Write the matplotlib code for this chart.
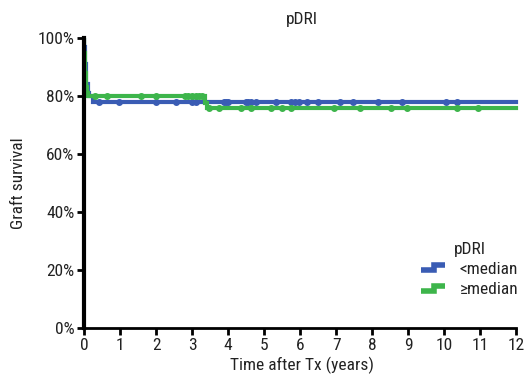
import matplotlib
matplotlib.use("Agg")
import matplotlib.pyplot as plt
import numpy as np
from matplotlib.lines import Line2D
from matplotlib.legend_handler import HandlerBase
from matplotlib import font_manager

names = {f.name for f in font_manager.fontManager.ttflist}
fam = [n for n in ['Liberation Sans Narrow', 'DejaVu Sans Condensed', 'Roboto Condensed',
                   'Open Sans Condensed', 'Liberation Sans'] if n in names]
plt.rcParams['font.family'] = fam + ['DejaVu Sans']
narrow = fam and fam[0] != 'Liberation Sans'
fs = 12.5 if narrow else 11.5

# Kaplan-Meier step data (time in years, survival in %)
blue_t = [0, 0.01, 0.03, 0.06, 0.10, 0.15, 0.25, 12]
blue_s = [100, 97, 91, 84, 81, 80, 78, 78]
green_t = [0, 0.01, 0.03, 0.05, 0.08, 0.12, 3.36, 3.42, 12]
green_s = [100, 95, 88, 83, 81, 80, 77.5, 76, 76]

blue_cens = [0.42, 0.97, 1.99, 2.55, 3.0, 3.1, 3.88, 3.95, 4.0, 4.49, 4.55, 4.63, 4.79,
             5.32, 5.76, 5.85, 5.96, 6.18, 6.51, 7.12, 7.48, 8.17, 8.84, 10.06, 10.36]
green_cens = [0.3, 0.64, 1.58, 2.0, 2.8, 2.9, 3.0, 3.1, 3.2, 3.27, 3.46, 3.74, 4.35,
              4.63, 5.2, 5.49, 5.76, 6.93, 7.67, 8.53, 8.98, 10.36, 10.94]

series_labels = ['<median', '≥median']
blue = '#3a5cb4'
green = '#3db54b'

xticks = list(range(0, 13))
yticks = [0, 20, 40, 60, 80, 100]


def surv_at(ts, ss, t):
    idx = np.searchsorted(ts, t, side='right') - 1
    return ss[idx]


fig = plt.figure(figsize=(5.25, 3.84), dpi=100)
ax = fig.add_axes([0.16, 0.146, 0.83, 0.755])

ax.step(blue_t, blue_s, where='post', color=blue, lw=3, solid_joinstyle='miter', zorder=3)
ax.plot(blue_cens, [surv_at(blue_t, blue_s, t) for t in blue_cens], 'o', color=blue, ms=4, zorder=3)
ax.step(green_t, green_s, where='post', color=green, lw=3, solid_joinstyle='miter', zorder=4)
ax.plot(green_cens, [surv_at(green_t, green_s, t) for t in green_cens], 'o', color=green, ms=4, zorder=4)

ax.set_xlim(0, 12.1)
ax.set_ylim(0, 100)
ax.set_xticks(xticks)
ax.set_xticklabels([str(x) for x in xticks])
ax.set_yticks(yticks)
ax.set_yticklabels([f'{y}%' for y in yticks])
for s in ['top', 'right']:
    ax.spines[s].set_visible(False)
ax.spines['left'].set_linewidth(3)
ax.spines['bottom'].set_linewidth(2)
ax.spines['left'].set_zorder(5)
ax.spines['bottom'].set_bounds(0, 12)
ax.tick_params(axis='both', direction='out', length=5, width=2, labelsize=fs, colors='black',
               labelcolor='#222222', pad=2)
ax.set_xlabel('Time after Tx (years)', fontsize=fs, color='#222222', labelpad=3)
ax.set_ylabel('Graft survival', fontsize=fs, color='#222222', labelpad=8)
ax.set_title('pDRI', fontsize=fs, color='#222222', pad=10)


class StepHandler(HandlerBase):
    def create_artists(self, legend, orig_handle, xdescent, ydescent, width, height, fontsize, trans):
        c = orig_handle.get_color()
        x0 = -xdescent
        y0 = -ydescent
        w = width * 0.85
        xs = [x0, x0 + w * 0.55, x0 + w * 0.55, x0 + w]
        ys = [y0 + height * 0.3, y0 + height * 0.3, y0 + height * 0.7, y0 + height * 0.7]
        ln = Line2D(xs, ys, color=c, lw=4, solid_joinstyle='miter', solid_capstyle='butt',
                    transform=trans)
        return [ln]


handles = [Line2D([], [], color=blue), Line2D([], [], color=green)]
leg = ax.legend(handles, series_labels, title='pDRI', handler_map={Line2D: StepHandler()},
                loc='lower right', bbox_to_anchor=(1.02, 0.07), frameon=False, fontsize=fs,
                title_fontsize=fs, handlelength=1.6, handletextpad=0.6, labelspacing=0.3,
                borderaxespad=0.2)
for t in leg.get_texts():
    t.set_color('#222222')
leg.get_title().set_color('#222222')

fig.savefig('out.png', dpi=100)
